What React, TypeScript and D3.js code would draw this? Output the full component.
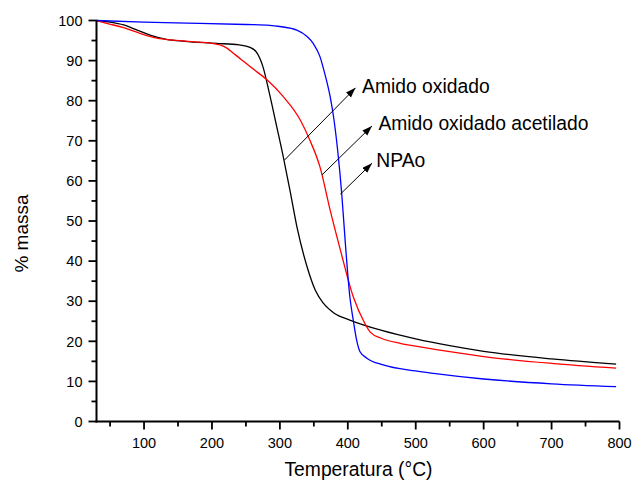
import React from "react";
import * as d3 from "d3";

const W = 636;
const H = 483;

// Amido oxidado (black)
const tempBlack = [30, 50, 70, 90, 110, 133, 160, 207, 240, 256, 266, 275, 285, 295, 305, 315, 325, 340, 352, 364, 380, 403, 450, 500, 550, 600, 700, 795];
const massBlack = [100, 99.6, 98.9, 97.6, 96.3, 95.3, 94.8, 94.3, 93.9, 93.3, 92.0, 88.5, 81.5, 73.8, 66, 57.5, 48.6, 38.6, 32.8, 29.5, 27.0, 25.3, 22.7, 20.6, 18.9, 17.5, 15.6, 14.3];

// Amido oxidado acetilado (red)
const tempRed = [30, 45, 70, 94, 119, 143, 182, 200, 212, 222, 231, 243, 256, 281, 305, 330, 344, 359, 374, 389, 408, 425, 433, 450, 477, 500, 550, 600, 700, 795];
const massRed = [100, 99.3, 98.2, 96.8, 95.6, 95.1, 94.6, 94.3, 93.9, 93.1, 91.9, 90.3, 88.5, 85.2, 81, 75.2, 70.2, 63.5, 52.7, 42.8, 31.1, 24.5, 22.3, 20.7, 19.5, 18.8, 17.4, 16.2, 14.5, 13.3];

// NPAo (blue)
const tempBlue = [30, 100, 182, 250, 285, 300, 325, 340, 349, 359, 366, 374, 379, 385, 391, 396, 403, 408, 413, 418, 428, 452, 500, 526, 600, 700, 795];
const massBlue = [100, 99.6, 99.3, 99.0, 98.8, 98.5, 97.6, 96.0, 94.3, 91, 86.8, 81, 76, 67.7, 56.9, 45.3, 31.1, 25.3, 20.3, 17.4, 15.8, 14.1, 12.6, 12.0, 10.6, 9.4, 8.7];

const xMajorTicks = [100, 200, 300, 400, 500, 600, 700, 800];
const xMinorTicks = [50, 150, 250, 350, 450, 550, 650, 750];
const yMajorTicks = [0, 10, 20, 30, 40, 50, 60, 70, 80, 90, 100];
const yMinorTicks = [5, 15, 25, 35, 45, 55, 65, 75, 85, 95];

const seriesNames = ["Amido oxidado", "Amido oxidado acetilado", "NPAo"];
const seriesColors = ["#000000", "#ff0000", "#0000ff"];

// annotation arrows in data units: [T, mass]
const arrowFrom = [[306.8, 65.2], [362, 61.5], [389, 56.7]];
const arrowTo = [[411.3, 83.2], [435.6, 73.7], [435.6, 64.4]];
const labelPos = [[421, 81.8], [445, 72.8], [442, 63.5]];

const FONT = "'Liberation Sans', Arial, Helvetica, sans-serif";

export default function App() {
  const x = d3.scaleLinear().domain([30, 800]).range([96.5, 619.5]);
  const y = d3.scaleLinear().domain([0, 100]).range([421.5, 20.5]);

  const line = d3
    .line<[number, number]>()
    .x((d) => x(d[0]))
    .y((d) => y(d[1]))
    .curve(d3.curveMonotoneX);

  const series = [
    d3.zip(tempBlack, massBlack) as [number, number][],
    d3.zip(tempRed, massRed) as [number, number][],
    d3.zip(tempBlue, massBlue) as [number, number][],
  ];

  const x0 = x.range()[0];
  const y0 = y.range()[0];

  return (
    <svg
      width={W}
      height={H}
      style={{ position: "absolute", left: 0, top: 0, background: "#fff" }}
      fontFamily={FONT}
    >
      <defs>
        <marker
          id="ah"
          markerUnits="userSpaceOnUse"
          markerWidth={11}
          markerHeight={8}
          refX={10}
          refY={3.5}
          orient="auto"
        >
          <path d="M0,0 L10,3.5 L0,7 Z" fill="#000" />
        </marker>
      </defs>
      <rect width={W} height={H} fill="#fff" />

      {series.map((s, i) => (
        <path key={i} d={line(s) || ""} fill="none" stroke={seriesColors[i]} strokeWidth={1.3} />
      ))}

      <line x1={x0} x2={x0} y1={y(100)} y2={y0 + 1} stroke="#000" strokeWidth={2} />
      <line x1={x0 - 1} x2={x(800)} y1={y0} y2={y0} stroke="#000" strokeWidth={2} />

      {yMajorTicks.map((t) => (
        <g key={"ym" + t}>
          <line x1={x0 - 8} x2={x0} y1={y(t)} y2={y(t)} stroke="#000" strokeWidth={1.8} />
          <text x={x0 - 14} y={y(t)} dy="0.36em" textAnchor="end" fontSize={14.5} fill="#000">
            {t}
          </text>
        </g>
      ))}
      {yMinorTicks.map((t) => (
        <line key={"yn" + t} x1={x0 - 5} x2={x0} y1={y(t)} y2={y(t)} stroke="#000" strokeWidth={1.8} />
      ))}
      {xMajorTicks.map((t) => (
        <g key={"xm" + t}>
          <line x1={x(t)} x2={x(t)} y1={y0} y2={y0 + 8} stroke="#000" strokeWidth={1.8} />
          <text x={x(t)} y={448} textAnchor="middle" fontSize={14.5} fill="#000">
            {t}
          </text>
        </g>
      ))}
      {xMinorTicks.map((t) => (
        <line key={"xn" + t} x1={x(t)} x2={x(t)} y1={y0} y2={y0 + 5} stroke="#000" strokeWidth={1.8} />
      ))}

      <text x={358.5} y={476} textAnchor="middle" fontSize={19.3} fill="#000">
        Temperatura (°C)
      </text>
      <text
        transform={`translate(28,233.5) rotate(-90)`}
        textAnchor="middle"
        fontSize={19}
        fill="#000"
      >
        % massa
      </text>

      {seriesNames.map((n, i) => (
        <g key={"an" + i}>
          <line
            x1={x(arrowFrom[i][0])}
            y1={y(arrowFrom[i][1])}
            x2={x(arrowTo[i][0])}
            y2={y(arrowTo[i][1])}
            stroke="#000"
            strokeWidth={1}
            markerEnd="url(#ah)"
          />
          <text x={x(labelPos[i][0])} y={y(labelPos[i][1])} fontSize={19.3} fill="#000">
            {n}
          </text>
        </g>
      ))}
    </svg>
  );
}
